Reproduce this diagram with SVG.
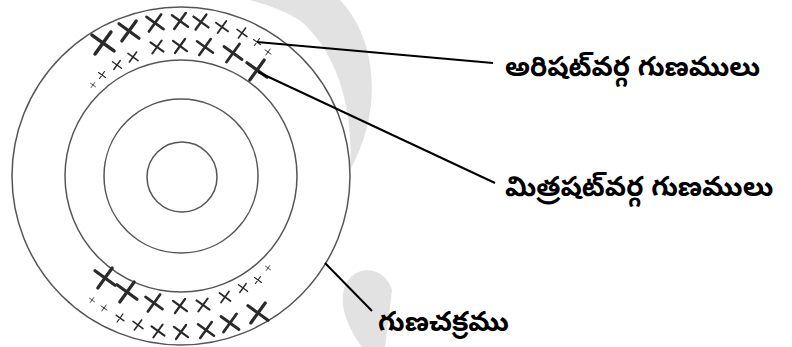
<svg xmlns="http://www.w3.org/2000/svg" xmlns:xlink="http://www.w3.org/1999/xlink" width="792" height="347" viewBox="0 0 792 347">
<style>
.ring{fill:none;stroke:#555;stroke-width:1.5}
.wm{fill:#e2e2e2;stroke:none}
.conn{stroke:#000;stroke-width:2;fill:none}
.lbl{font-family:"Noto Sans Telugu","Noto Sans",sans-serif;font-size:27.5px;font-weight:bold;fill:#000}
.xs{fill:none;stroke:#2a2a2a;stroke-width:0.16;stroke-linecap:round}
</style>
<defs>
<path id="x" class="xs" d="M-0.5,-0.36 L0.5,0.36 M-0.36,0.5 L0.36,-0.5"/>
</defs>
<rect width="792" height="347" fill="#fff"/>
<g id="watermark">
<path class="wm" d="M250,0 L340,0 C374,35 386,105 350,170 C353,128 346,62 302,22 C287,11 267,5 250,0 Z"/>
<path class="wm" d="M362,347 C345,325 335,295 350,278 C362,265 385,268 392,290 L385,347 Z"/>
</g>
<g id="circles">
<circle class="ring" cx="181" cy="176" r="169"/>
<circle class="ring" cx="181" cy="176" r="116"/>
<circle class="ring" cx="181" cy="176" r="77"/>
<circle class="ring" cx="182" cy="177" r="35"/>
</g>
<g id="ari-crosses">
<use href="#x" transform="translate(103,43) scale(22)"/>
<use href="#x" transform="translate(129,31) scale(20)"/>
<use href="#x" transform="translate(155,23) scale(17)"/>
<use href="#x" transform="translate(180,21) scale(16)"/>
<use href="#x" transform="translate(201,22) scale(15)"/>
<use href="#x" transform="translate(222,27) scale(12)"/>
<use href="#x" transform="translate(242,33) scale(10)"/>
<use href="#x" transform="translate(257,42) scale(7)"/>
<use href="#x" transform="translate(268,52) scale(6)"/>
<use href="#x" transform="translate(93,85) scale(5)"/>
<use href="#x" transform="translate(102,75) scale(7)"/>
<use href="#x" transform="translate(117,65) scale(9)"/>
<use href="#x" transform="translate(133,57) scale(10)"/>
<use href="#x" transform="translate(157,47) scale(13)"/>
<use href="#x" transform="translate(180,46) scale(14)"/>
<use href="#x" transform="translate(205,47) scale(16)"/>
<use href="#x" transform="translate(233,53) scale(18)"/>
<use href="#x" transform="translate(257,70) scale(20)"/>
</g>
<g id="bottom-crosses">
<use href="#x" transform="translate(105,278) scale(20)"/>
<use href="#x" transform="translate(127,292) scale(20)"/>
<use href="#x" transform="translate(154,303) scale(17)"/>
<use href="#x" transform="translate(180,306) scale(14)"/>
<use href="#x" transform="translate(203,305) scale(13)"/>
<use href="#x" transform="translate(225,297) scale(11)"/>
<use href="#x" transform="translate(243,288) scale(9)"/>
<use href="#x" transform="translate(258,280) scale(7)"/>
<use href="#x" transform="translate(268,268) scale(5)"/>
<use href="#x" transform="translate(92,300) scale(5)"/>
<use href="#x" transform="translate(104,308) scale(6)"/>
<use href="#x" transform="translate(120,318) scale(8)"/>
<use href="#x" transform="translate(138,325) scale(10)"/>
<use href="#x" transform="translate(158,331) scale(13)"/>
<use href="#x" transform="translate(181,332) scale(14)"/>
<use href="#x" transform="translate(206,330) scale(16)"/>
<use href="#x" transform="translate(230,323) scale(18)"/>
<use href="#x" transform="translate(258,313) scale(20)"/>
</g>
<g id="connectors">
<line class="conn" x1="257" y1="42" x2="493" y2="63"/>
<line class="conn" x1="258" y1="72" x2="495" y2="183"/>
<line class="conn" x1="325" y1="263" x2="372" y2="311"/>
</g>
<g id="label-arishadvarga">
<text class="lbl" x="505" y="76">అరిషట్‌వర్గ గుణములు</text>
</g>
<g id="label-mitrashadvarga">
<text class="lbl" x="505" y="196">మిత్రషట్‌వర్గ గుణములు</text>
</g>
<g id="label-gunachakramu">
<text class="lbl" x="378" y="331">గుణచక్రము</text>
</g>
</svg>
